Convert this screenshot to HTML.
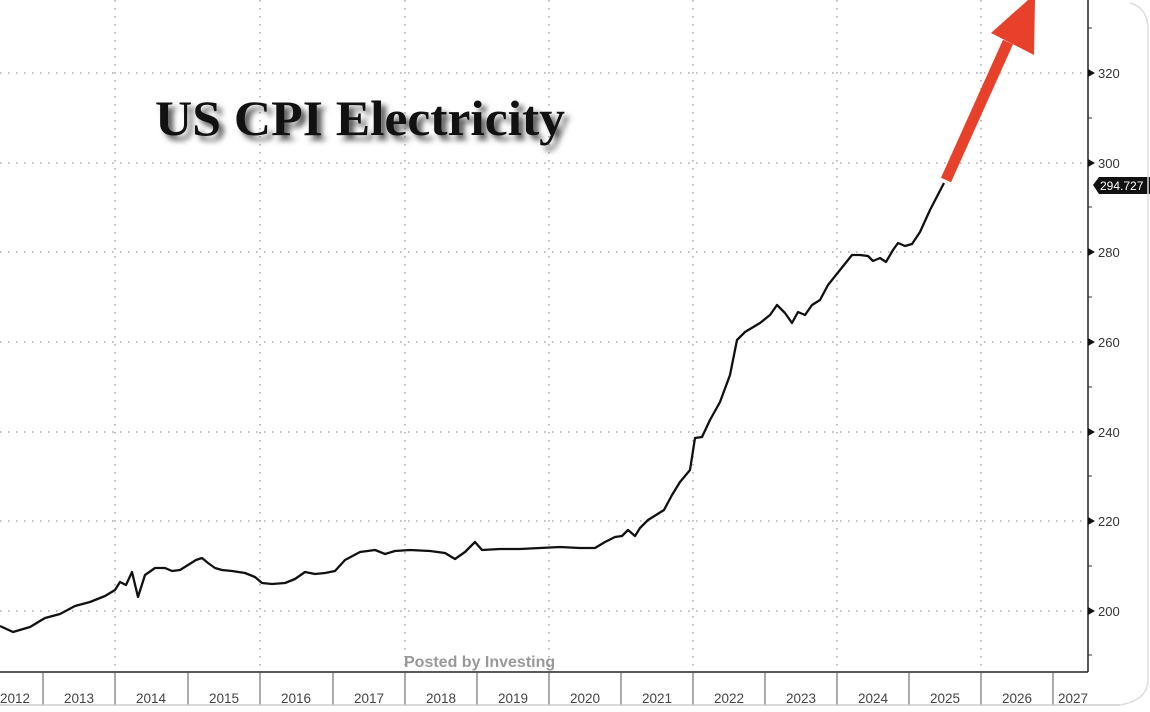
<!DOCTYPE html>
<html><head><meta charset="utf-8"><style>
html,body{margin:0;padding:0;background:#fff;}
svg{display:block;}
</style></head><body>
<svg width="1150" height="712" xmlns="http://www.w3.org/2000/svg">
<defs><filter id="sh" x="-10%" y="-30%" width="120%" height="160%"><feGaussianBlur stdDeviation="3"/></filter></defs>
<rect width="1150" height="712" fill="#fff"/>
<g stroke="#999" stroke-width="1.3" stroke-dasharray="1.5,6.5">
<line x1="0" y1="73" x2="1088" y2="73"/><line x1="0" y1="163" x2="1088" y2="163"/>
<line x1="0" y1="252" x2="1088" y2="252"/><line x1="0" y1="342" x2="1088" y2="342"/>
<line x1="0" y1="432" x2="1088" y2="432"/><line x1="0" y1="521" x2="1088" y2="521"/>
<line x1="0" y1="611" x2="1088" y2="611"/>
<line x1="115" y1="0" x2="115" y2="672"/><line x1="260" y1="0" x2="260" y2="672"/>
<line x1="405" y1="0" x2="405" y2="672"/><line x1="549" y1="0" x2="549" y2="672"/>
<line x1="693" y1="0" x2="693" y2="672"/><line x1="837" y1="0" x2="837" y2="672"/>
<line x1="981" y1="0" x2="981" y2="672"/>
</g>
<g font-family="Liberation Serif, serif" font-weight="bold" font-size="50">
<text x="160" y="140" fill="#555" filter="url(#sh)" textLength="410" lengthAdjust="spacingAndGlyphs">US CPI Electricity</text>
<text x="155" y="135" fill="#111" textLength="410" lengthAdjust="spacingAndGlyphs">US CPI Electricity</text>
</g>
<polyline fill="none" stroke="#111" stroke-width="2.3" stroke-linejoin="round" points="0,626 13,632 30,627 45,618 60,614 75,606 90,602 105,596 115,590 120,582 126,585 132,572 138,597 145,575 155,568 165,568 172,571 180,570 188,565 196,560 202,558 208,563 215,568 222,570 232,571 245,573 255,577 262,583 272,584 285,583 295,579 305,572 315,574 325,573 335,571 345,560 360,552 375,550 385,554 395,551 410,550 430,551 445,553 455,559 465,552 475,542 482,550 500,549 520,549 540,548 560,547 580,548 595,548 605,542 615,537 622,536 628,530 635,536 640,528 648,520 656,515 664,510 672,495 680,482 690,470 695,438 702,437 710,420 720,402 730,375 737,340 745,332 760,323 770,315 777,305 785,313 792,323 798,312 805,315 812,305 820,300 828,285 840,270 852,255 860,255 868,256 873,261 880,258 886,262 893,250 898,243 905,246 912,244 920,232 930,210 944,183"/>
<line x1="946" y1="180" x2="1008" y2="42" stroke="#e8412b" stroke-width="11"/>
<polygon points="991,33 1034,55 1035,0 1028,0" fill="#e8412b"/>
<line x1="1088" y1="0" x2="1088" y2="672" stroke="#222" stroke-width="1.5"/>
<line x1="0" y1="672" x2="1088" y2="672" stroke="#222" stroke-width="1.5"/>
<g fill="#111">
<polygon points="1088,69 1095,73 1088,77"/><polygon points="1088,159 1095,163 1088,167"/>
<polygon points="1088,248 1095,252 1088,256"/><polygon points="1088,338 1095,342 1088,346"/>
<polygon points="1088,428 1095,432 1088,436"/><polygon points="1088,517 1095,521 1088,525"/>
<polygon points="1088,607 1095,611 1088,615"/>
</g>
<g stroke="#333" stroke-width="1"><line x1="1088" y1="28" x2="1092" y2="28"/><line x1="1088" y1="118" x2="1092" y2="118"/><line x1="1088" y1="207" x2="1092" y2="207"/><line x1="1088" y1="297" x2="1092" y2="297"/><line x1="1088" y1="387" x2="1092" y2="387"/><line x1="1088" y1="476" x2="1092" y2="476"/><line x1="1088" y1="566" x2="1092" y2="566"/><line x1="1088" y1="655" x2="1092" y2="655"/></g>
<g font-family="Liberation Sans, sans-serif" font-size="13" fill="#333">
<text x="1098" y="78">320</text><text x="1098" y="168">300</text><text x="1098" y="257">280</text>
<text x="1098" y="347">260</text><text x="1098" y="437">240</text><text x="1098" y="526">220</text>
<text x="1098" y="616">200</text>
</g>
<polygon points="1093,185 1099,177 1150,177 1150,194 1099,194" fill="#111"/>
<text x="1100" y="190" font-family="Liberation Sans, sans-serif" font-size="12" fill="#fff">294.727</text>
<text x="404" y="667" font-family="Liberation Sans, sans-serif" font-size="16" font-weight="bold" fill="#999">Posted by Investing</text>
<g stroke="#555" stroke-width="1">
<line x1="43" y1="672" x2="43" y2="705"/><line x1="115" y1="672" x2="115" y2="705"/><line x1="188" y1="672" x2="188" y2="705"/><line x1="260" y1="672" x2="260" y2="705"/><line x1="333" y1="672" x2="333" y2="705"/><line x1="405" y1="672" x2="405" y2="705"/><line x1="477" y1="672" x2="477" y2="705"/><line x1="549" y1="672" x2="549" y2="705"/><line x1="621" y1="672" x2="621" y2="705"/><line x1="693" y1="672" x2="693" y2="705"/><line x1="765" y1="672" x2="765" y2="705"/><line x1="837" y1="672" x2="837" y2="705"/><line x1="909" y1="672" x2="909" y2="705"/><line x1="981" y1="672" x2="981" y2="705"/><line x1="1053" y1="672" x2="1053" y2="705"/>
</g>
<line x1="0" y1="705" x2="1120" y2="705" stroke="#ccc" stroke-width="1.5"/>
<path d="M1120,705 Q1148,700 1148,680 L1148,30 Q1148,8 1130,3" fill="none" stroke="#ddd" stroke-width="1.5"/>
<g font-family="Liberation Sans, sans-serif" font-size="13.5" fill="#444" text-anchor="middle">
<text x="15" y="703">2012</text><text x="79" y="703">2013</text><text x="151" y="703">2014</text><text x="224" y="703">2015</text><text x="296" y="703">2016</text><text x="369" y="703">2017</text><text x="441" y="703">2018</text><text x="513" y="703">2019</text><text x="585" y="703">2020</text><text x="657" y="703">2021</text><text x="729" y="703">2022</text><text x="801" y="703">2023</text><text x="873" y="703">2024</text><text x="945" y="703">2025</text><text x="1017" y="703">2026</text><text x="1073" y="703">2027</text>
</g>
</svg>
</body></html>
